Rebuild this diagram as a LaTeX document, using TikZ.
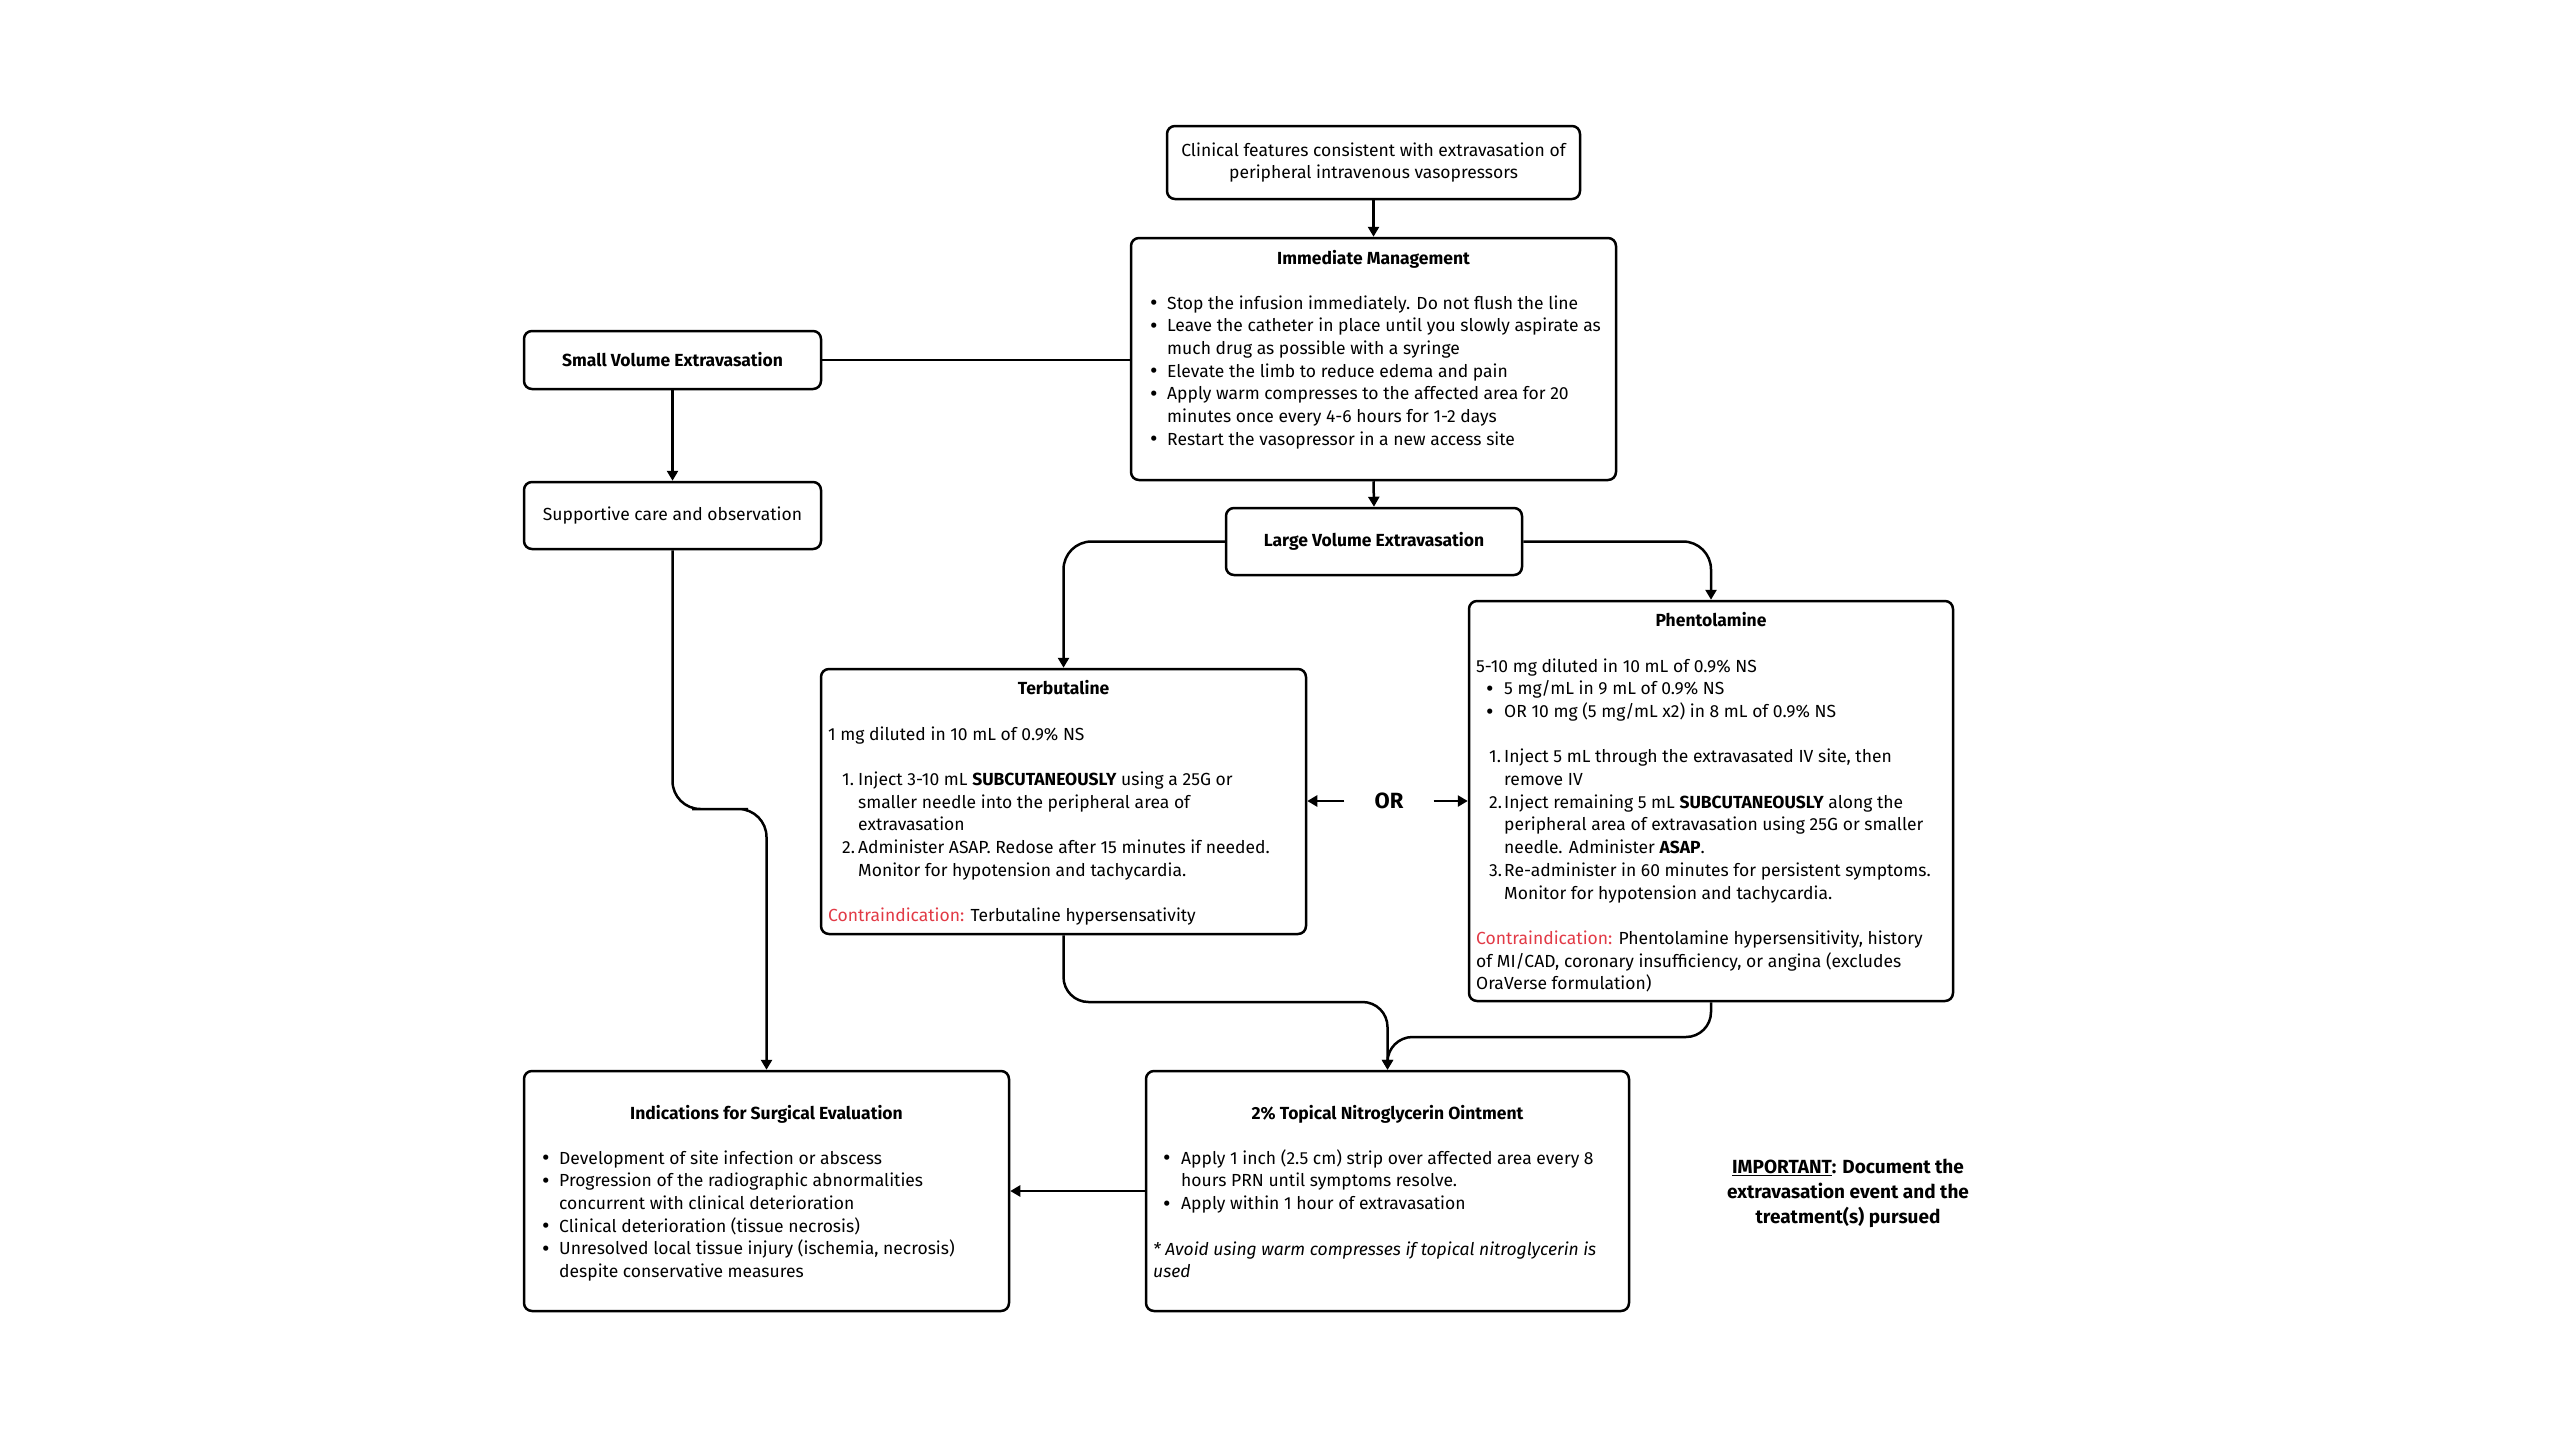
\documentclass[tikz,border=0pt]{standalone}
\usepackage{fontspec}
\setmainfont{Fira Sans}
\usetikzlibrary{arrows.meta}
\definecolor{cired}{RGB}{226,58,70}
\newcommand\bfs{\fontsize{17.5}{22.7}\selectfont}
\newcommand\bul{\raisebox{-1.6pt}{\fontsize{23}{22.7}\selectfont\textbullet}}
\newcommand\lead[3]{\hspace*{#1}\makebox[#2][l]{#3}}
\newenvironment{lines}{\begin{tabular}[t]{@{}l@{}}}{\end{tabular}}
\tikzset{
  box/.style={draw, line width=2.5pt, rounded corners=8pt, inner sep=0pt, font=\bfs, align=center},
  conn/.style={line width=2.5pt},
  arr/.style={conn, -{Triangle[width=11pt,length=10pt]}},
  body/.style={font=\bfs, inner sep=0pt, anchor=base west},
  ttl/.style={font=\bfs\bfseries, inner sep=0pt, anchor=base},
}
\begin{document}
\begin{tikzpicture}[x=1pt,y=-1pt]
\fill[white] (0,0) rectangle (2560,1440);
\useasboundingbox (0,0) rectangle (2560,1440);

% boxes
\node[box, minimum width=413pt, minimum height=73pt] (clin) at (1373.5,162.5)
  {Clinical features consistent with extravasation of\\peripheral intravenous vasopressors};
\node[box, minimum width=485pt, minimum height=242pt] (imm) at (1373.5,359) {};
\node[box, minimum width=297pt, minimum height=58pt, font=\bfs\bfseries] (sv) at (672.5,360) {Small Volume Extravasation};
\node[box, minimum width=297pt, minimum height=67pt] (sup) at (672.5,515.5) {Supportive care and observation};
\node[box, minimum width=296pt, minimum height=67pt, font=\bfs\bfseries] (lv) at (1374,541.5) {Large Volume Extravasation};
\node[box, minimum width=485pt, minimum height=265pt] (terb) at (1063.5,801.5) {};
\node[box, minimum width=484pt, minimum height=400pt] (phen) at (1711,801) {};
\node[box, minimum width=485pt, minimum height=240pt] (ind) at (766.5,1191) {};
\node[box, minimum width=483pt, minimum height=240pt] (nitro) at (1387.5,1191) {};

% Immediate management
\node[ttl] (immT) at (1373.5,264) {Immediate Management};
\node[body] (immB) at (1150,309) {\begin{lines}
\lead{0pt}{17pt}{\bul}Stop the infusion immediately. Do not flush the line\\
\lead{0pt}{17pt}{\bul}Leave the catheter in place until you slowly aspirate as\\
\hspace*{17pt}much drug as possible with a syringe\\
\lead{0pt}{17pt}{\bul}Elevate the limb to reduce edema and pain\\
\lead{0pt}{17pt}{\bul}Apply warm compresses to the affected area for 20\\
\hspace*{17pt}minutes once every 4-6 hours for 1-2 days\\
\lead{0pt}{17pt}{\bul}Restart the vasopressor in a new access site
\end{lines}};

% Terbutaline
\node[ttl] (terbT) at (1063.5,694) {Terbutaline};
\node[body] (terbB) at (828,740) {\begin{lines}
1 mg diluted in 10 mL of 0.9\% NS\\[22.7pt]
\lead{14pt}{16pt}{1.}Inject 3-10 mL \textbf{SUBCUTANEOUSLY} using a 25G or\\
\hspace*{30pt}smaller needle into the peripheral area of\\
\hspace*{30pt}extravasation\\
\lead{14pt}{16pt}{2.}Administer ASAP. Redose after 15 minutes if needed.\\
\hspace*{30pt}Monitor for hypotension and tachycardia.\\[22.7pt]
\textcolor{cired}{Contraindication:} Terbutaline hypersensativity
\end{lines}};

% Phentolamine
\node[ttl] (phenT) at (1711,626) {Phentolamine};
\node[body] (phenB) at (1476,672) {\begin{lines}
5-10 mg diluted in 10 mL of 0.9\% NS\\
\lead{10pt}{18pt}{\bul}5 mg/mL in 9 mL of 0.9\% NS\\
\lead{10pt}{18pt}{\bul}OR 10 mg (5 mg/mL x2) in 8 mL of 0.9\% NS\\[22.7pt]
\lead{13pt}{15pt}{1.}Inject 5 mL through the extravasated IV site, then\\
\hspace*{28pt}remove IV\\
\lead{13pt}{15pt}{2.}Inject remaining 5 mL \textbf{SUBCUTANEOUSLY} along the\\
\hspace*{28pt}peripheral area of extravasation using 25G or smaller\\
\hspace*{28pt}needle. Administer \textbf{ASAP}.\\
\lead{13pt}{15pt}{3.}Re-administer in 60 minutes for persistent symptoms.\\
\hspace*{28pt}Monitor for hypotension and tachycardia.\\[22.7pt]
\textcolor{cired}{Contraindication:} Phentolamine hypersensitivity, history\\
of MI/CAD, coronary insufficiency, or angina (excludes\\
OraVerse formulation)
\end{lines}};

% OR
\node[font=\fontsize{22}{25}\selectfont\bfseries, inner sep=0pt] (or) at (1389,801) {OR};

% Indications
\node[ttl] (indT) at (766.5,1119) {Indications for Surgical Evaluation};
\node[body] (indB) at (542,1164) {\begin{lines}
\lead{0pt}{17pt}{\bul}Development of site infection or abscess\\
\lead{0pt}{17pt}{\bul}Progression of the radiographic abnormalities\\
\hspace*{17pt}concurrent with clinical deterioration\\
\lead{0pt}{17pt}{\bul}Clinical deterioration (tissue necrosis)\\
\lead{0pt}{17pt}{\bul}Unresolved local tissue injury (ischemia, necrosis)\\
\hspace*{17pt}despite conservative measures
\end{lines}};

% Nitroglycerin
\node[ttl] (nitT) at (1387.5,1119) {2\% Topical Nitroglycerin Ointment};
\node[body] (nitB) at (1163,1164) {\begin{lines}
\lead{0pt}{18pt}{\bul}Apply 1 inch (2.5 cm) strip over affected area every 8\\
\hspace*{18pt}hours PRN until symptoms resolve.\\
\lead{0pt}{18pt}{\bul}Apply within 1 hour of extravasation
\end{lines}};
\node[body] (nitN) at (1153,1255) {\begin{lines}
\textit{* Avoid using warm compresses if topical nitroglycerin is}\\
\textit{used}
\end{lines}};

% Important
\node[font=\fontsize{19}{25}\selectfont\bfseries, inner sep=0pt, anchor=base] (imp) at (1848,1173)
  {\begin{tabular}[t]{@{}c@{}}\underline{IMPORTANT}: Document the\\extravasation event and the\\treatment(s) pursued\end{tabular}};

% connectors
\coordinate (j1) at (720,809);
\coordinate (j2) at (1200,1002);
\coordinate (j3) at (1550,1037);
\draw[arr] (clin.south) -- (imm.north);
\draw[conn] (sv.east) -- (sv.east -| imm.west);
\draw[arr] (sv.south) -- (sup.north);
\draw[arr] (imm.south) -- (lv.north);
\draw[arr, rounded corners=28pt] (lv.west) -| (terb.north);
\draw[arr, rounded corners=28pt] (lv.east) -| (phen.north);
\draw[arr] ([xshift=-30pt]or.west) -- (terb.east |- or.west);
\draw[arr] ([xshift=30pt]or.east) -- (phen.west |- or.east);
\draw[arr, rounded corners=28pt] (sup.south) |- (j1) -| (ind.north);
\draw[arr, rounded corners=25pt] (terb.south) |- (j2) -| (nitro.north);
\draw[arr, rounded corners=25pt] (phen.south) |- (j3) -| (nitro.north);
\draw[arr] (nitro.west) -- (ind.east);
\end{tikzpicture}
\end{document}
